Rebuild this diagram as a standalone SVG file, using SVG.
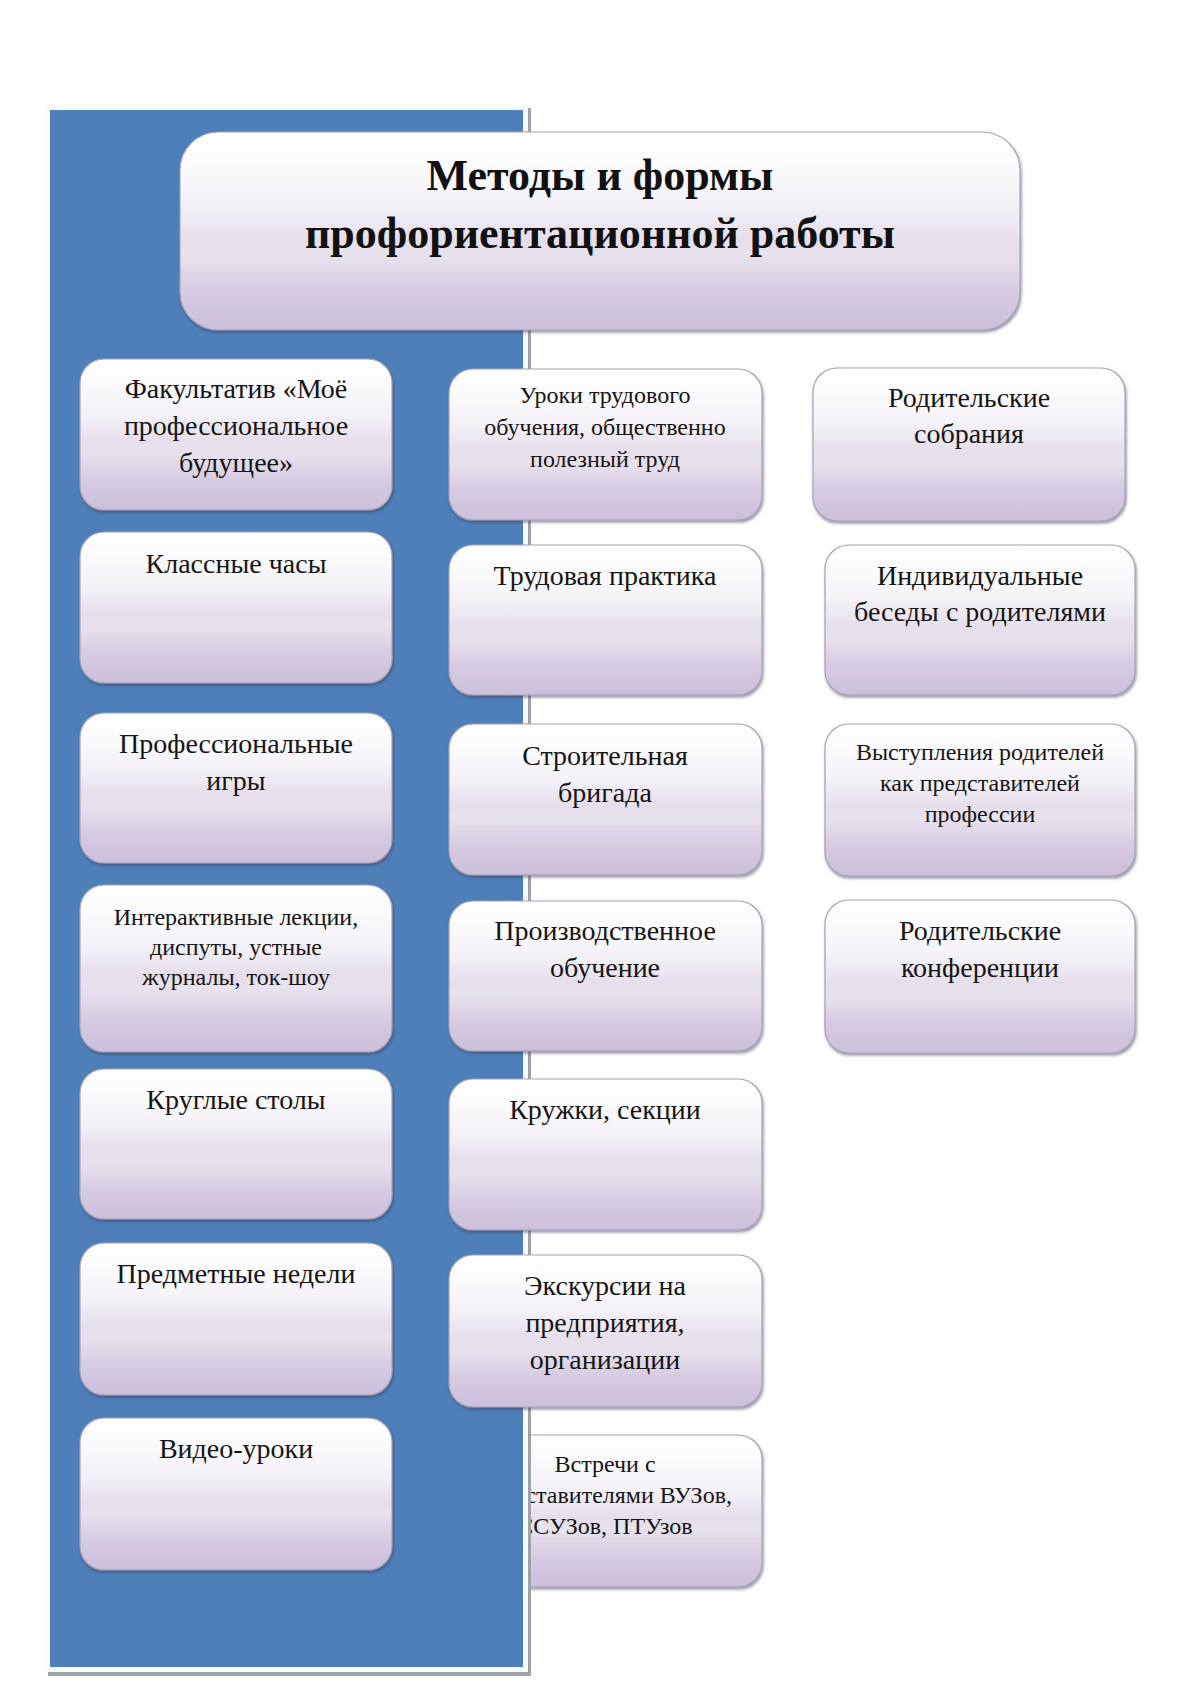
<svg xmlns="http://www.w3.org/2000/svg" width="1190" height="1682" viewBox="0 0 1190 1682">
<defs>
  <linearGradient id="glass" x1="0" y1="0" x2="0" y2="1">
    <stop offset="0" stop-color="#ffffff"/>
    <stop offset="0.35" stop-color="#f5f3f8"/>
    <stop offset="0.55" stop-color="#e5deeb"/>
    <stop offset="0.62" stop-color="#e8e2ee"/>
    <stop offset="0.8" stop-color="#d6cce2"/>
    <stop offset="1" stop-color="#cbbfdb"/>
  </linearGradient>
  <filter id="shadow" x="-5%" y="-5%" width="110%" height="115%">
    <feDropShadow dx="1" dy="2" stdDeviation="1.5" flood-color="#3a3a5a" flood-opacity="0.55"/>
  </filter>
</defs>
<style>
  .box { fill: url(#glass); stroke: #a4a4b6; stroke-width: 1.2; filter: url(#shadow); }
  .t { font-family: "Liberation Serif", "Times New Roman", serif; fill: #151515; text-anchor: middle; }
  .big { font-size: 28px; }
  .small { font-size: 24px; }
  .title { font-family: "Liberation Serif", "Times New Roman", serif; font-weight: bold; font-size: 44px; fill: #111111; text-anchor: middle; }
</style>
<rect width="1190" height="1682" fill="#ffffff"/>

<!-- last middle box lies behind the panel -->
<g id="m7">
  <rect class="box" x="449" y="1435" width="313" height="152" rx="24"/>
  <text class="t small" x="605" y="1472">Встречи с</text>
  <text class="t small" x="605" y="1503">представителями ВУЗов,</text>
  <text class="t small" x="605" y="1534">ССУЗов, ПТУзов</text>
</g>

<!-- blue panel -->
<g id="panel">
  <rect x="48" y="108" width="483" height="1568" fill="#9ea3aa"/>
  <rect x="45" y="105" width="483" height="1567" fill="#f7fbfd"/>
  <rect x="50" y="110" width="473" height="1557" fill="#4e7fb9"/>
</g>

<g id="title">
  <rect class="box" x="180" y="132" width="840" height="198" rx="38"/>
  <text class="title" x="600" y="190">Методы и формы</text>
  <text class="title" x="600" y="248">профориентационной работы</text>
</g>

<g id="l1">
  <rect class="box" x="80" y="359" width="312" height="151" rx="24"/>
  <text class="t big" x="236" y="398">Факультатив «Моё</text>
  <text class="t big" x="236" y="435">профессиональное</text>
  <text class="t big" x="236" y="472">будущее»</text>
</g>
<g id="l2">
  <rect class="box" x="80" y="532" width="312" height="151" rx="24"/>
  <text class="t big" x="236" y="573">Классные часы</text>
</g>
<g id="l3">
  <rect class="box" x="80" y="713" width="312" height="150" rx="24"/>
  <text class="t big" x="236" y="753">Профессиональные</text>
  <text class="t big" x="236" y="790">игры</text>
</g>
<g id="l4">
  <rect class="box" x="80" y="885" width="312" height="167" rx="24"/>
  <text class="t small" x="236" y="925">Интерактивные лекции,</text>
  <text class="t small" x="236" y="955">диспуты, устные</text>
  <text class="t small" x="236" y="985">журналы, ток-шоу</text>
</g>
<g id="l5">
  <rect class="box" x="80" y="1069" width="312" height="150" rx="24"/>
  <text class="t big" x="236" y="1109">Круглые столы</text>
</g>
<g id="l6">
  <rect class="box" x="80" y="1243" width="312" height="152" rx="24"/>
  <text class="t big" x="236" y="1283">Предметные недели</text>
</g>
<g id="l7">
  <rect class="box" x="80" y="1418" width="312" height="152" rx="24"/>
  <text class="t big" x="236" y="1458">Видео-уроки</text>
</g>

<g id="m1">
  <rect class="box" x="449" y="369" width="313" height="151" rx="24"/>
  <text class="t small" x="605" y="403">Уроки трудового</text>
  <text class="t small" x="605" y="435">обучения, общественно</text>
  <text class="t small" x="605" y="467">полезный труд</text>
</g>
<g id="m2">
  <rect class="box" x="449" y="545" width="313" height="150" rx="24"/>
  <text class="t big" x="605" y="585">Трудовая практика</text>
</g>
<g id="m3">
  <rect class="box" x="449" y="724" width="313" height="151" rx="24"/>
  <text class="t big" x="605" y="765">Строительная</text>
  <text class="t big" x="605" y="802">бригада</text>
</g>
<g id="m4">
  <rect class="box" x="449" y="901" width="313" height="150" rx="24"/>
  <text class="t big" x="605" y="940">Производственное</text>
  <text class="t big" x="605" y="977">обучение</text>
</g>
<g id="m5">
  <rect class="box" x="449" y="1079" width="313" height="151" rx="24"/>
  <text class="t big" x="605" y="1119">Кружки, секции</text>
</g>
<g id="m6">
  <rect class="box" x="449" y="1255" width="313" height="152" rx="24"/>
  <text class="t big" x="605" y="1295">Экскурсии на</text>
  <text class="t big" x="605" y="1332">предприятия,</text>
  <text class="t big" x="605" y="1369">организации</text>
</g>

<g id="r1">
  <rect class="box" x="813" y="368" width="312" height="153" rx="24"/>
  <text class="t big" x="969" y="407">Родительские</text>
  <text class="t big" x="969" y="443">собрания</text>
</g>
<g id="r2">
  <rect class="box" x="825" y="545" width="310" height="150" rx="24"/>
  <text class="t big" x="980" y="585">Индивидуальные</text>
  <text class="t big" x="980" y="621">беседы с родителями</text>
</g>
<g id="r3">
  <rect class="box" x="825" y="724" width="310" height="152" rx="24"/>
  <text class="t small" x="980" y="760">Выступления родителей</text>
  <text class="t small" x="980" y="791">как представителей</text>
  <text class="t small" x="980" y="822">профессии</text>
</g>
<g id="r4">
  <rect class="box" x="825" y="900" width="310" height="153" rx="24"/>
  <text class="t big" x="980" y="940">Родительские</text>
  <text class="t big" x="980" y="977">конференции</text>
</g>

<g id="connectors"></g>
</svg>
